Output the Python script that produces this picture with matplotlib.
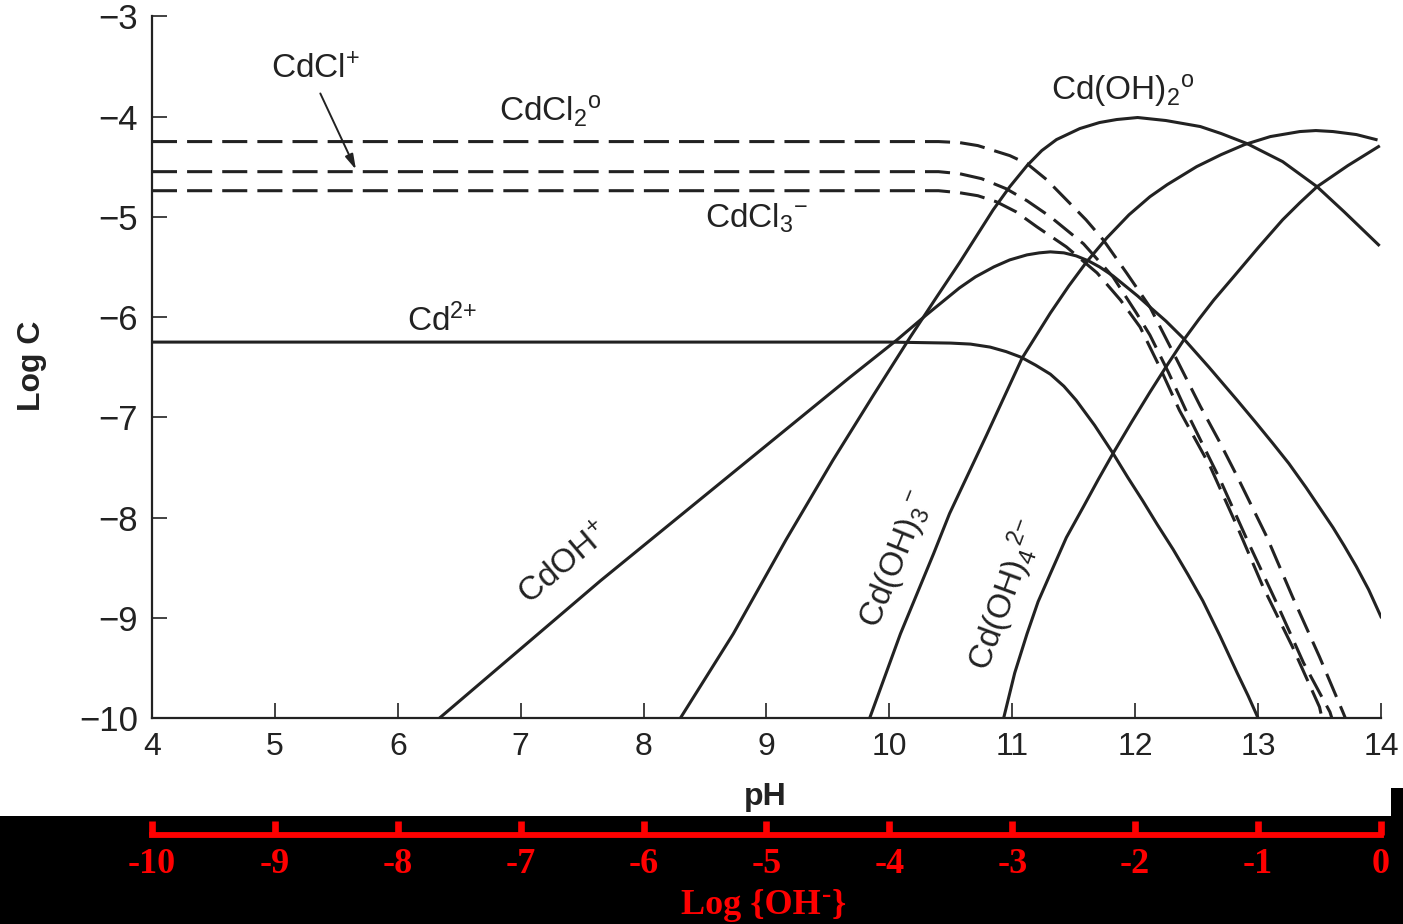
"""
Cadmium speciation vs pH (log C diagram) with chloride complexes,
plus a Log {OH-} scale on a black band underneath.
"""

import matplotlib
matplotlib.use("Agg")
import matplotlib.pyplot as plt
from matplotlib.patches import Rectangle

plt.rcParams.update({
    "font.family": ["Liberation Sans", "DejaVu Sans"],
    "mathtext.fontset": "custom",
    "mathtext.rm": "Liberation Sans",
    "mathtext.it": "Liberation Sans:italic",
    "mathtext.bf": "Liberation Sans:bold",
})

INK = "#222222"
W, H = 1403, 924

# ── species curves (pH, log C) ───────────────────────────────────────────────
PH_CDCL2 = [4.0, 10.2, 10.4, 10.57, 10.72, 10.85, 10.98, 11.12, 11.28, 11.44,
            11.6, 11.74, 11.93, 12.12, 12.32, 12.53, 12.68, 12.83, 13.07,
            13.28, 13.50, 13.69, 13.71]
LOGC_CDCL2 = [-4.25, -4.25, -4.25, -4.26, -4.29, -4.34, -4.39, -4.47, -4.63,
              -4.83, -5.03, -5.23, -5.56, -5.90, -6.38, -6.89, -7.23, -7.59,
              -8.19, -8.79, -9.39, -9.94, -10.0]

PH_CDCL = [4.0, 10.2, 10.4, 10.57, 10.75, 10.95, 11.12, 11.31, 11.58, 11.82,
           12.01, 12.12, 12.27, 12.42, 12.69, 12.91, 13.15, 13.37, 13.585,
           13.60]
LOGC_CDCL = [-4.55, -4.55, -4.55, -4.57, -4.62, -4.72, -4.84, -5.00, -5.27,
             -5.60, -5.96, -6.18, -6.55, -6.95, -7.62, -8.22, -8.85, -9.45,
             -9.94, -10.0]

PH_CDCL3 = [4.0, 10.2, 10.4, 10.57, 10.72, 10.87, 11.03, 11.20, 11.44, 11.69,
            11.88, 12.04, 12.2, 12.36, 12.61, 12.83, 13.04, 13.28, 13.50, 13.52]
LOGC_CDCL3 = [-4.74, -4.74, -4.74, -4.76, -4.79, -4.85, -4.95, -5.10, -5.30,
              -5.56, -5.83, -6.10, -6.50, -6.93, -7.49, -8.09, -8.69, -9.29,
              -9.89, -10.0]

PH_CD = [4.0, 10.0, 10.5, 10.66, 10.82, 10.95, 11.07, 11.19, 11.31, 11.42,
         11.52, 11.67, 11.82, 11.94, 12.06, 12.18, 12.31, 12.43, 12.55,
         12.69, 12.83, 12.92, 13.0]
LOGC_CD = [-6.25, -6.25, -6.26, -6.27, -6.30, -6.345, -6.40, -6.48, -6.57,
           -6.69, -6.83, -7.08, -7.36, -7.60, -7.83, -8.07, -8.32, -8.57,
           -8.83, -9.18, -9.55, -9.78, -10.0]

PH_CDOH = [6.34, 7.65, 9.0, 9.68, 10.06, 10.30, 10.57, 10.7, 10.85, 10.98,
           11.12, 11.22, 11.31, 11.42, 11.52, 11.62, 11.71, 11.82, 11.93,
           12.02, 12.12, 12.25, 12.39, 12.6, 12.83, 12.98, 13.12, 13.25,
           13.39, 13.5, 13.61, 13.7, 13.80, 13.9, 14.0]
LOGC_CDOH = [-10.0, -8.63, -7.28, -6.60, -6.23, -5.98, -5.71, -5.60, -5.50,
             -5.43, -5.38, -5.36, -5.35, -5.36, -5.39, -5.44, -5.50, -5.59,
             -5.70, -5.79, -5.90, -6.04, -6.21, -6.50, -6.83, -7.05, -7.26,
             -7.46, -7.70, -7.90, -8.10, -8.28, -8.49, -8.72, -8.99]

PH_CDOH2 = [8.30, 8.73, 9.16, 9.54, 9.87, 10.17, 10.385, 10.57, 10.845,
            10.98, 11.12, 11.24, 11.36, 11.55, 11.71, 11.85, 12.02, 12.25,
            12.53, 12.7, 12.91, 13.2, 13.48, 13.7, 13.98]
LOGC_CDOH2 = [-10.0, -9.16, -8.22, -7.43, -6.78, -6.20, -5.80, -5.46, -4.93,
              -4.70, -4.49, -4.34, -4.23, -4.12, -4.06, -4.03, -4.01, -4.04,
              -4.10, -4.17, -4.27, -4.45, -4.70, -4.95, -5.28]

PH_CDOH3 = [9.84, 10.09, 10.36, 10.49, 10.79, 11.08, 11.31, 11.46, 11.605,
            11.77, 11.95, 12.12, 12.26, 12.5, 12.7, 12.89, 13.1, 13.34, 13.47,
            13.61, 13.8, 13.96]
LOGC_CDOH3 = [-10.0, -9.16, -8.36, -7.96, -7.18, -6.41, -5.96, -5.69, -5.45,
              -5.21, -4.98, -4.80, -4.68, -4.50, -4.38, -4.28, -4.20, -4.15,
              -4.14, -4.15, -4.18, -4.23]

PH_CDOH4 = [10.93, 11.02, 11.12, 11.21, 11.31, 11.44, 11.58, 11.70, 11.82,
            11.97, 12.12, 12.26, 12.40, 12.52, 12.64, 12.80, 13.0, 13.20,
            13.34, 13.48, 13.73, 13.98]
LOGC_CDOH4 = [-10.0, -9.55, -9.16, -8.84, -8.56, -8.20, -7.89, -7.62, -7.36,
              -7.05, -6.75, -6.48, -6.22, -6.02, -5.83, -5.60, -5.31, -5.03,
              -4.86, -4.70, -4.49, -4.30]

PH_TICKS = list(range(4, 15))
LOGC_TICKS = list(range(-10, -2))
LOGOH_TICKS = list(range(-10, 1))

fig = plt.figure(figsize=(W / 100, H / 100), dpi=100)
fig.patch.set_facecolor("white")

# black band carrying the Log {OH-} scale
fig.add_artist(Rectangle((0, 0), 1, 1 - 816 / H, transform=fig.transFigure,
                         facecolor="black", edgecolor="none", zorder=0))
fig.add_artist(Rectangle((1 - 12 / W, 0), 12 / W, 1 - 788 / H,
                         transform=fig.transFigure, facecolor="black",
                         edgecolor="none", zorder=0))

ax = fig.add_axes([0.1083, 0.2229, 0.8760, 0.7595])
ax.set_xlim(4, 14)
ax.set_ylim(-10, -3)
for s in ("top", "right"):
    ax.spines[s].set_visible(False)
for s in ("left", "bottom"):
    ax.spines[s].set_linewidth(1.6)
    ax.spines[s].set_color(INK)

dash = (0, (8.2, 3.3))
lw = 2.2
for xs, ys in [(PH_CDCL2, LOGC_CDCL2), (PH_CDCL, LOGC_CDCL),
               (PH_CDCL3, LOGC_CDCL3)]:
    ax.plot(xs, ys, color=INK, lw=lw, ls=dash)
for xs, ys in [(PH_CD, LOGC_CD), (PH_CDOH, LOGC_CDOH), (PH_CDOH2, LOGC_CDOH2),
               (PH_CDOH3, LOGC_CDOH3), (PH_CDOH4, LOGC_CDOH4)]:
    ax.plot(xs, ys, color=INK, lw=lw, solid_joinstyle="round")

ax.set_xticks(PH_TICKS)
ax.set_yticks(LOGC_TICKS)
ax.tick_params(axis="both", direction="in", length=11, width=1.2,
               color=INK, labelcolor=INK)
ax.tick_params(axis="x", labelsize=23, pad=10)
ax.tick_params(axis="y", labelsize=25, pad=10)

# species labels
fs = 24
kw = dict(fontsize=fs, ha="center", va="center", color=INK)
ax.text(5.33, -3.53, r"CdCl$^{{+}}$", **kw)
ax.annotate("", xy=(5.66, -4.53), xytext=(5.37, -3.77),
            arrowprops=dict(arrowstyle="-|>,head_length=0.9,head_width=0.25",
                            color=INK, lw=1.4, shrinkA=0, shrinkB=0))
ax.text(7.24, -3.95, r"CdCl$_2$$^{\mathrm{o}}$", **kw)
ax.text(8.92, -5.02, r"CdCl$_3$$^{{-}}$", **kw)
ax.text(6.36, -6.04, r"Cd$^{2{+}}$", **kw)
ax.text(11.9, -3.74, r"Cd(OH)$_2$$^{\mathrm{o}}$", **kw)
ax.text(7.36, -8.47, r"CdOH$^{{+}}$", rotation=40, rotation_mode="anchor", **kw)
ax.text(10.06, -8.42, r"Cd(OH)$_3$$^{{-}}$", rotation=68,
        rotation_mode="anchor", **kw)
ax.text(10.94, -8.77, r"Cd(OH)$_4$$^{2{-}}$", rotation=70,
        rotation_mode="anchor", **kw)

fig.text(32 / W, 1 - 366 / H, "Log C", fontsize=23, fontweight="bold",
         rotation=90, ha="center", va="center", color=INK)
fig.text(765 / W, 1 - 797 / H, "pH", fontsize=23, fontweight="bold",
         ha="center", va="center", color=INK)

# Log {OH-} scale, red on black
ax2 = fig.add_axes([0.1083, 1 - 834.5 / H, 0.8760, 0.001])
ax2.set_facecolor("none")
ax2.set_xlim(-10, 0)
ax2.set_yticks([])
for s in ("top", "right", "left"):
    ax2.spines[s].set_visible(False)
ax2.spines["bottom"].set_color("red")
ax2.spines["bottom"].set_linewidth(4.2)
ax2.spines["bottom"].set_capstyle("projecting")
ax2.set_xticks(LOGOH_TICKS)
ax2.set_xticklabels([str(v) for v in LOGOH_TICKS], fontfamily="Liberation Serif",
                    fontweight="bold", fontsize=26, color="red")
ax2.tick_params(axis="x", direction="in", length=10, width=4.8, color="red",
                pad=10)

# "Log {OH" + raised hyphen + "}" laid out piece by piece
serif = dict(fontfamily="Liberation Serif", fontweight="bold", color="red",
             va="baseline", ha="left")
base_y = 1 - 914 / H
renderer = fig.canvas.get_renderer()
t1 = fig.text(681 / W, base_y, "Log {OH", fontsize=26, **serif)
x1 = t1.get_window_extent(renderer).x1
t2 = fig.text((x1 + 1) / W, base_y + 12 / H, "-", fontsize=20, **serif)
x2 = t2.get_window_extent(renderer).x1
fig.text((x2 + 1) / W, base_y, "}", fontsize=26, **serif)

fig.savefig("out.png", dpi=100)
